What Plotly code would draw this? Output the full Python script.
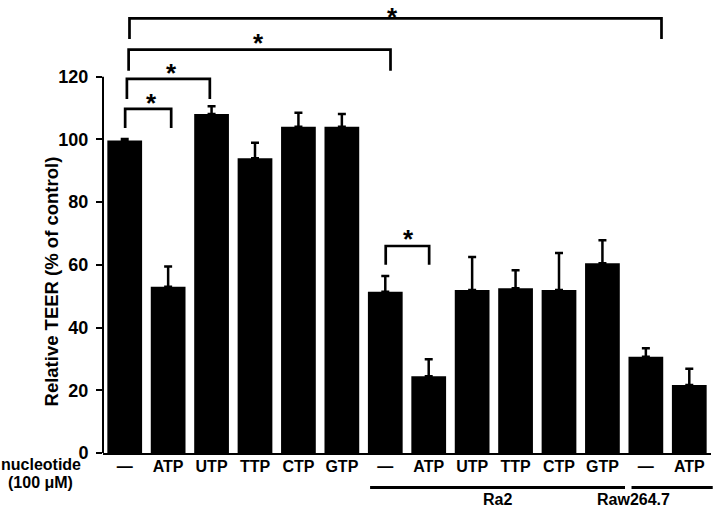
import plotly.graph_objects as go

# ---- data ----
tick_labels = ["\u2014", "ATP", "UTP", "TTP", "CTP", "GTP",
               "\u2014", "ATP", "UTP", "TTP", "CTP", "GTP",
               "\u2014", "ATP"]
teer_mean = [99.6, 53.0, 108.1, 94.0, 104.0, 104.0,
             51.4, 24.5, 52.0, 52.5, 52.0, 60.5,
             30.7, 21.7]
teer_err = [0.5, 6.5, 2.5, 4.9, 4.5, 4.1,
            5.0, 5.4, 10.5, 5.8, 11.8, 7.3,
            2.7, 5.2]
y_ticks = [0, 20, 40, 60, 80, 100, 120]
# significance brackets: (left x, right x, top y, leg bottom y)
brackets = [
    (0.01, 1.07, 109.7, 103.6),
    (0.05, 1.96, 119.3, 112.9),
    (0.09, 6.12, 128.6, 121.9),
    (0.11, 12.36, 138.6, 132.0),
    (6.01, 7.01, 66.0, 60.0),
]
stars = [(0.62, 113.3), (1.07, 122.7), (3.09, 132.4), (6.17, 142.6), (6.53, 69.8)]
groups = [("Ra2", 5.65, 11.52), ("Raw264.7", 11.67, 13.54)]

FONT = "Liberation Sans, Arial, sans-serif"
x_idx = list(range(len(teer_mean)))
XMIN, XMAX = -0.5, 13.5
YMAX = 143.8


def to_paper(x):
    return (x - XMIN) / (XMAX - XMIN)


fig = go.Figure()
fig.add_trace(go.Bar(
    x=x_idx, y=teer_mean, width=0.8,
    marker=dict(color="black", line=dict(width=0)),
    error_y=dict(type="data", array=teer_err,
                 arrayminus=[0] * len(teer_err), symmetric=False,
                 color="black", thickness=2.5, width=4),
))

shapes = []
for x0, x1, yt, yb in brackets:
    shapes.append(dict(type="path", xref="x", yref="y",
                       path=f"M {x0},{yb} L {x0},{yt} L {x1},{yt} L {x1},{yb}",
                       line=dict(color="black", width=2.7)))
# y-axis line from 0 to 120
shapes.append(dict(type="line", xref="paper", yref="y", x0=0, x1=0,
                   y0=0, y1=120, line=dict(color="black", width=2)))

annotations = []
for sx, sy in stars:
    if sy > YMAX - 6:
        # keep the star's text box inside the page
        annotations.append(dict(x=sx, y=1.0, xref="x", yref="paper", text="<b>*</b>",
                                showarrow=False, yanchor="top", yshift=2,
                                font=dict(size=26, family=FONT, color="black")))
    else:
        annotations.append(dict(x=sx, y=sy, xref="x", yref="y", text="<b>*</b>",
                                showarrow=False, yshift=-5,
                                font=dict(size=26, family=FONT, color="black")))

GY = -0.0765
for name, gx0, gx1 in groups:
    shapes.append(dict(type="line", xref="paper", yref="paper",
                       x0=to_paper(gx0), x1=to_paper(gx1), y0=GY, y1=GY,
                       line=dict(color="black", width=3)))
    annotations.append(dict(x=to_paper((gx0 + gx1) / 2), y=GY, xref="paper", yref="paper",
                            text=f"<b>{name}</b>", showarrow=False, yanchor="top",
                            yshift=-1,
                            font=dict(size=16, family=FONT, color="black")))

annotations.append(dict(x=-0.105, y=60, xref="paper", yref="y",
                        text="<b>Relative TEER (% of control)</b>", textangle=-90,
                        showarrow=False, yshift=-17,
                        font=dict(size=18.5, family=FONT, color="black")))
annotations.append(dict(x=-0.1025, y=-0.0266, xref="paper", yref="paper",
                        text="<b>nucleotide</b>", showarrow=False,
                        xanchor="center", yanchor="middle",
                        font=dict(size=16, family=FONT, color="black")))
annotations.append(dict(x=-0.1025, y=-0.0665, xref="paper", yref="paper",
                        text="<b>(100 \u03bcM)</b>", showarrow=False,
                        xanchor="center", yanchor="middle",
                        font=dict(size=16, family=FONT, color="black")))

fig.update_layout(
    width=714, height=507,
    margin=dict(l=103, r=3, t=2, b=54),
    paper_bgcolor="white", plot_bgcolor="white",
    showlegend=False, bargap=0.2,
    shapes=shapes, annotations=annotations,
    font=dict(family=FONT, color="black"),
    xaxis=dict(range=[XMIN, XMAX], tickvals=x_idx,
               ticktext=[f"<b>{t}</b>" for t in tick_labels],
               showline=True, linecolor="black", linewidth=2,
               ticks="", showgrid=False, zeroline=False,
               ticklabelstandoff=-2,
               tickfont=dict(size=16, family=FONT, color="black")),
    yaxis=dict(range=[0, YMAX], tickvals=y_ticks,
               ticktext=[f"<b>{v}</b>" for v in y_ticks],
               showline=False, ticks="outside", ticklen=6, tickwidth=2,
               tickcolor="black", showgrid=False, zeroline=False,
               ticklabelstandoff=4,
               tickfont=dict(size=18, family=FONT, color="black")),
)

fig.write_html("out.html", config={"displayModeBar": False},
               post_script="document.body.style.margin='0';document.body.style.padding='0';")
